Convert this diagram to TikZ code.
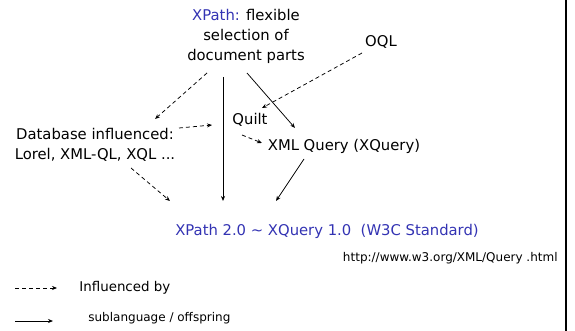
\documentclass[tikz,border=0pt]{standalone}
\usepackage{fontspec}
\setmainfont{DejaVu Sans}
\usetikzlibrary{arrows.meta,calc}
\definecolor{xblue}{RGB}{51,51,179}
\tikzset{every node/.style={font=\fontsize{14.8}{20}\selectfont,inner sep=2pt},
	small/.style={font=\fontsize{12}{14}\selectfont},
	infl/.style={draw,dash pattern=on 4pt off 3pt,-{Stealth[length=5pt,width=4pt]}},
	offspring/.style={draw,-{Stealth[length=5pt,width=4pt]}}}

\begin{document}
\begin{tikzpicture}[x=1pt,y=-1pt,line width=0.75pt]
\useasboundingbox (0,0) rectangle (575,331);
\node (xpath) at (246,36) [align=center] {\textcolor{xblue}{XPath:} flexible\\selection of\\document parts};
\node (oql) at (381,42) {OQL};
\node (quilt) at (250,120) {Quilt};
\node (db) at (95,145) [align=center] {Database influenced:\\Lorel, XML-QL, XQL ...};
\node (xquery) at (344,146) {XML Query (XQuery)};
\node (std) at (327,231) [text=xblue] {XPath 2.0 \textasciitilde{} XQuery 1.0\ \ (W3C Standard)};
\node (url) at (560,258) [anchor=east,small] {http://www.w3.org/XML/Query .html};
\node (inflbl) at (77,288) [anchor=west,font=\fontsize{13.4}{16}\selectfont] {Influenced by};
\node (sublbl) at (86,318) [anchor=west,small] {sublanguage / offspring};
\coordinate (lg1) at (15,288);
\coordinate (lg2) at (15,321);

\draw[infl] ($(xpath)+(-39,37)$) -- ($(db)+(60,-26)$);
\draw[offspring] ($(xpath)+(-23,41)$) -- ($(std)+(-104,-30)$);
\draw[offspring] ($(xpath)+(1,37)$) -- ($(xquery)+(-49,-18)$);
\draw[infl] ($(oql)+(-19,11)$) -- ($(quilt)+(12,-12)$);
\draw[infl] ($(db)+(84,-17)$) -- ($(quilt)+(-38,5)$);
\draw[infl] ($(quilt)+(-8,15)$) -- ($(xquery)+(-82,-3)$);
\draw[infl] ($(db)+(36,23)$) -- ($(std)+(-157,-30)$);
\draw[offspring] ($(xquery)+(-40,13)$) -- ($(std)+(-51,-30)$);

\draw[infl] (lg1) -- ($(inflbl.west)+(-20,0)$);
\draw[offspring] (lg2) -- ($(sublbl.west)+(-33,3)$);

\draw[line width=2pt] (566,0) -- (566,331);
\end{tikzpicture}
\end{document}
